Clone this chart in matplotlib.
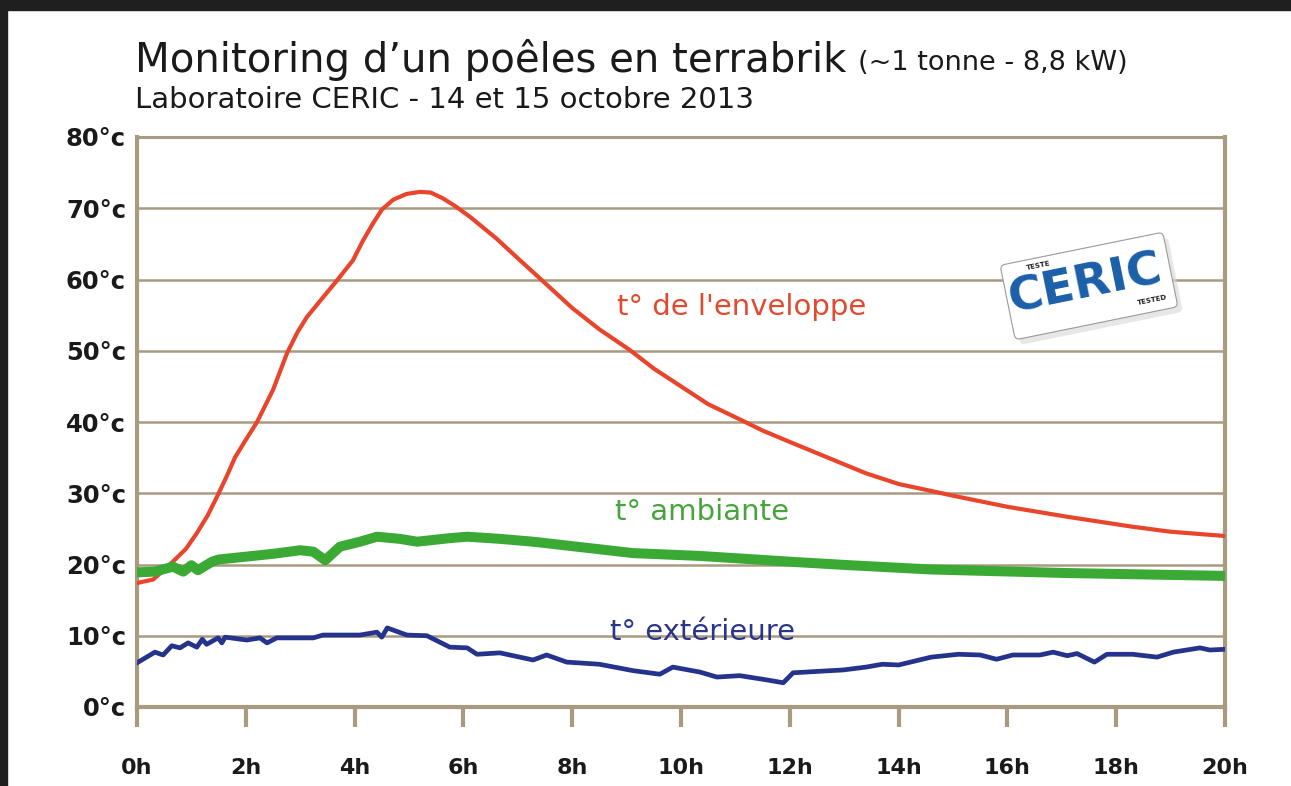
import numpy as np
import matplotlib
matplotlib.use("Agg")
import matplotlib.pyplot as plt
from matplotlib.patches import Rectangle, FancyBboxPatch
from matplotlib.transforms import Affine2D

# ---- data (hours, degrees C) ----
red_h = [0, 0.3, 0.66, 0.9, 1.1, 1.3, 1.47, 1.65, 1.8, 2.0, 2.2, 2.5, 2.76, 2.95, 3.12, 3.42,
         3.68, 3.97, 4.15, 4.34, 4.5, 4.71, 4.95, 5.2, 5.4, 5.62, 5.85, 6.12, 6.6, 7.04, 7.5,
         8, 8.5, 9.06, 9.5, 10, 10.5, 11.1, 11.5, 12, 12.7, 13.4, 14, 15.1, 16, 17.1, 18.3,
         19, 20]
red_t = [17.4, 17.9, 20.4, 22.2, 24.4, 26.9, 29.5, 32.4, 35, 37.5, 39.9, 44.5, 49.7, 52.6, 54.7,
         57.5, 59.9, 62.7, 65.4, 67.9, 69.8, 71.2, 72.0, 72.3, 72.2, 71.4, 70.3, 68.8, 65.8,
         62.7, 59.5, 56, 53, 50.1, 47.5, 45, 42.5, 40.3, 38.8, 37.2, 35, 32.8, 31.3, 29.5,
         28.1, 26.7, 25.3, 24.6, 24]

green_h = [0, 0.33, 0.66, 0.85, 1.0, 1.12, 1.25, 1.38, 1.5, 2.0, 2.5, 3.0, 3.24, 3.46, 3.73,
           4.1, 4.41, 4.83, 5.15, 5.75, 6.07, 6.67, 7.28, 8.2, 9.12, 10.35, 12.2, 13.1, 14.6,
           17.1, 20]
green_t = [18.9, 19.0, 19.7, 19.0, 19.9, 19.2, 19.8, 20.4, 20.7, 21.1, 21.5, 22.0, 21.8, 20.6, 22.5,
           23.2, 23.9, 23.6, 23.2, 23.7, 23.9, 23.6, 23.2, 22.4, 21.6, 21.2, 20.3, 19.9, 19.3,
           18.8, 18.4]

blue_h = [0, 0.33, 0.48, 0.64, 0.79, 0.94, 1.1, 1.2, 1.28, 1.49, 1.56, 1.62, 2.02, 2.26, 2.39,
          2.57, 3.24, 3.42, 4.1, 4.41, 4.5, 4.6, 4.96, 5.33, 5.75, 6.07, 6.25, 6.67, 7.28, 7.53,
          7.9, 8.5, 9.12, 9.61, 9.85, 10.35, 10.66, 11.08, 11.58, 11.88, 12.06, 12.98, 13.4, 13.7,
          14.0, 14.6, 15.1, 15.5, 15.8, 16.1, 16.6, 16.84, 17.1, 17.28, 17.6, 17.83, 18.3, 18.75,
          19.05, 19.54, 19.72, 20]
blue_t = [6.2, 7.7, 7.3, 8.6, 8.3, 9.0, 8.4, 9.5, 8.8, 9.7, 9.0, 9.8, 9.4, 9.7, 9.0,
          9.7, 9.7, 10.1, 10.1, 10.5, 9.8, 11.1, 10.1, 10.0, 8.4, 8.3, 7.4, 7.6, 6.6, 7.3,
          6.3, 6.0, 5.1, 4.6, 5.6, 4.9, 4.2, 4.4, 3.8, 3.4, 4.8, 5.2, 5.6, 6.0,
          5.9, 7.0, 7.4, 7.3, 6.7, 7.3, 7.3, 7.7, 7.2, 7.5, 6.3, 7.4, 7.4, 7.0,
          7.7, 8.3, 8.0, 8.1]

x_ticks = [0, 2, 4, 6, 8, 10, 12, 14, 16, 18, 20]
x_labels = [f"{h}h" for h in x_ticks]
y_ticks = [0, 10, 20, 30, 40, 50, 60, 70, 80]
y_labels = [f"{t}°c" for t in y_ticks]

W, H = 1291, 786
beige = "#a99b7f"
c_red = "#e8452c"
c_green = "#3aaa35"
c_blue = "#25338c"

fig = plt.figure(figsize=(W / 100, H / 100), dpi=100, facecolor="white")

# dark frame of the screenshot
fig.patches.append(Rectangle((0, 1 - 10 / H), 1, 10 / H, transform=fig.transFigure,
                             color="#1f1f1f", zorder=0))
fig.patches.append(Rectangle((0, 0), 7 / W, 1, transform=fig.transFigure,
                             color="#1f1f1f", zorder=0))

ax = fig.add_axes([137 / W, (H - 707) / H, (1225 - 137) / W, (707 - 137) / H])
ax.set_xlim(0, 20)
ax.set_ylim(0, 80)

ax.plot(red_h, red_t, color=c_red, lw=3.0, solid_joinstyle="round", zorder=3)
ax.plot(blue_h, blue_t, color=c_blue, lw=3.4, solid_joinstyle="round", zorder=3)
ax.plot(green_h, green_t, color=c_green, lw=7.2, solid_joinstyle="round", zorder=4)

ax.set_yticks(y_ticks)
ax.set_yticklabels(y_labels, fontsize=17.5, fontweight="bold", color="#1a1a1a")
ax.set_xticks(x_ticks)
ax.set_xticklabels(x_labels, fontsize=16, fontweight="bold", color="#1a1a1a")
ax.tick_params(axis="y", length=0, pad=8)
ax.tick_params(axis="x", length=14.5, width=3, color=beige, direction="out", pad=22)
ax.grid(axis="y", color=beige, lw=1.8, zorder=1)

for side in ["left", "right", "bottom"]:
    ax.spines[side].set_color(beige)
    ax.spines[side].set_linewidth(3)
ax.spines["top"].set_color(beige)
ax.spines["top"].set_linewidth(2.2)

# series labels
ax.text(11.12, 56.1, "t° de l'enveloppe", color="#e24a30", fontsize=21, ha="center", va="center")
ax.text(10.39, 27.4, "t° ambiante", color="#47a33b", fontsize=21, ha="center", va="center")
ax.text(10.4, 10.5, "t° extérieure", color="#2a3589", fontsize=21, ha="center", va="center")

# titles
t1 = fig.text(135 / W, 1 - 60 / H, "Monitoring d’un poêles en terrabrik", fontsize=29,
              color="#1a1a1a", va="center", ha="left")
fig.canvas.draw()
bb = t1.get_window_extent()
fig.text((bb.x1 + 12) / W, 1 - 63 / H, "(~1 tonne - 8,8 kW)", fontsize=19.5,
         color="#1a1a1a", va="center", ha="left")
fig.text(135 / W, 1 - 100 / H, "Laboratoire CERIC - 14 et 15 octobre 2013", fontsize=21,
         color="#1a1a1a", va="center", ha="left")

# CERIC badge (rotated card)
cx, cy = 1089, H - 286
rot = Affine2D().rotate_deg_around(cx, cy, 11.5)
shadow = FancyBboxPatch((cx - 83 + 4, cy - 38 - 6), 166, 76,
                        boxstyle="round,pad=0,rounding_size=5",
                        transform=rot, facecolor="#d8d8d8", edgecolor="none",
                        alpha=0.6, zorder=5)
card = FancyBboxPatch((cx - 83, cy - 38), 166, 76, boxstyle="round,pad=0,rounding_size=5",
                      transform=rot, facecolor="white", edgecolor="#9a9a9a", lw=0.8, zorder=6)
fig.patches.extend([shadow, card])
fig.text((cx - 4) / W, (cy + 1) / H, "CERIC", fontsize=34, fontweight="heavy",
         color="#1b5fa9", rotation=11.5, rotation_mode="anchor", ha="center", va="center",
         zorder=7)
fig.text(1038 / W, 1 - 266 / H, "TESTE", fontsize=5, fontweight="bold", color="#222222",
         rotation=11.5, rotation_mode="anchor", ha="center", va="center", zorder=7)
fig.text(1152 / W, 1 - 300 / H, "TESTED", fontsize=5, fontweight="bold", color="#222222",
         rotation=11.5, rotation_mode="anchor", ha="center", va="center", zorder=7)

fig.savefig("out.png", dpi=100, facecolor="white")
